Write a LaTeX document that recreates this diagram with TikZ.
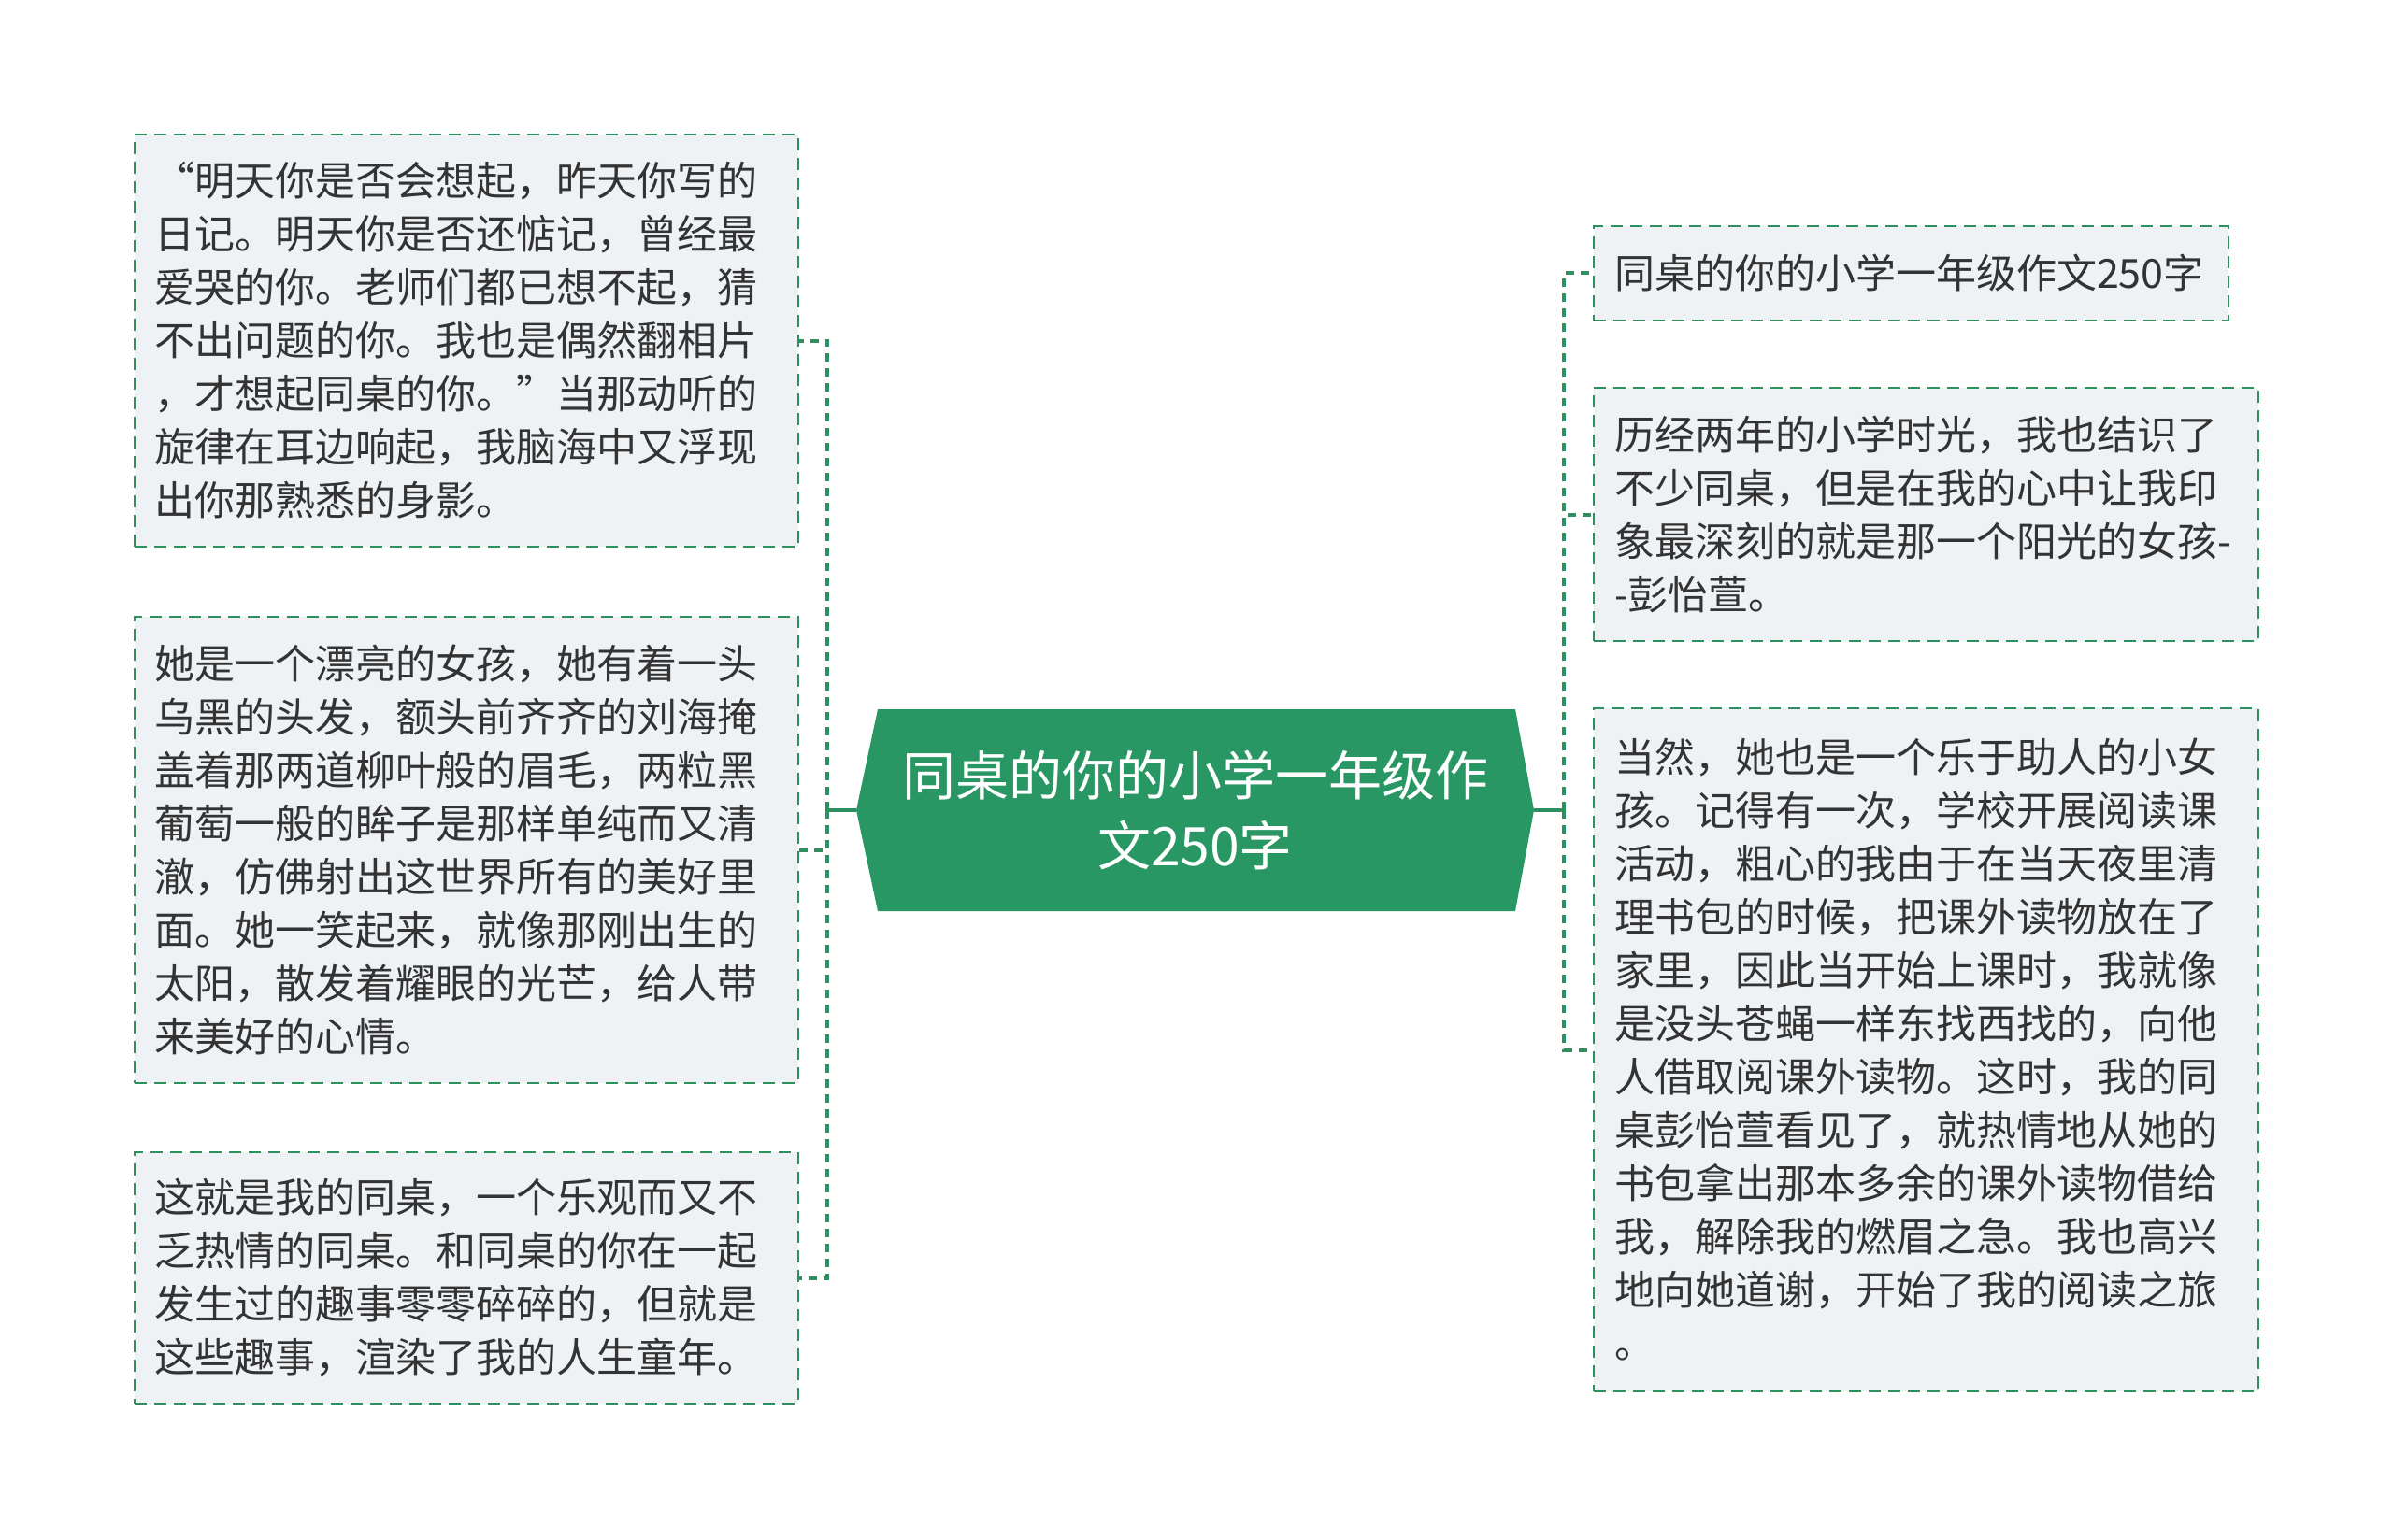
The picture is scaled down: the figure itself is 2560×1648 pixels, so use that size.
\documentclass[tikz,border=0pt]{standalone}
\usepackage{fontspec}
\setmainfont{Noto Sans CJK SC}
\definecolor{mgreen}{HTML}{299764}
\definecolor{lgreen}{HTML}{2E8F5F}
\definecolor{boxfill}{HTML}{EFF2F5}
\definecolor{txt}{HTML}{333333}
\begin{document}
\begin{tikzpicture}[x=0.5pt,y=-0.5pt,
  leaf/.style={draw=lgreen, line width=1pt, dash pattern=on 6.5pt off 4pt,
    fill=boxfill, text=txt, inner sep=0pt, align=left,
    font=\fontsize{21.5pt}{28.5pt}\selectfont},
  conn/.style={draw=lgreen, line width=2pt, dash pattern=on 4.5pt off 3.5pt},
  connsolid/.style={draw=lgreen, line width=2pt}]
\useasboundingbox (0,0) rectangle (2560,1648);
\fill[white] (0,0) rectangle (2560,1648);

% central node
\fill[mgreen] (916,867) -- (939,759) -- (1621,759) -- (1641,867) -- (1621,975) -- (939,975) -- cycle;
\node[minimum width=362.5pt, minimum height=108pt, inner sep=0pt, text=white, align=center,
  font=\fontsize{28.5pt}{37.5pt}\selectfont] (C) at (1278.5,867)
  {同桌的你的小学一年级作\\文250字};

% left leaves
\node[leaf, minimum width=355pt, minimum height=220.5pt, text width=334pt] (L1) at (499,364.5)
{“明天你是否会想起，昨天你写的\\
日记。明天你是否还惦记，曾经最\\
爱哭的你。老师们都已想不起，猜\\
不出问题的你。我也是偶然翻相片\\
，才想起同桌的你。”当那动听的\\
旋律在耳边响起，我脑海中又浮现\\
出你那熟悉的身影。};

\node[leaf, minimum width=355pt, minimum height=249.5pt, text width=334pt] (L2) at (499,909.5)
{她是一个漂亮的女孩，她有着一头\\
乌黑的头发，额头前齐齐的刘海掩\\
盖着那两道柳叶般的眉毛，两粒黑\\
葡萄一般的眸子是那样单纯而又清\\
澈，仿佛射出这世界所有的美好里\\
面。她一笑起来，就像那刚出生的\\
太阳，散发着耀眼的光芒，给人带\\
来美好的心情。};

\node[leaf, minimum width=355pt, minimum height=134.5pt, text width=334pt] (L3) at (499,1367.5)
{这就是我的同桌，一个乐观而又不\\
乏热情的同桌。和同桌的你在一起\\
发生过的趣事零零碎碎的，但就是\\
这些趣事，渲染了我的人生童年。};

% right leaves
\node[leaf, minimum width=339.5pt, minimum height=50.5pt, text width=317.5pt] (R1) at (2044.5,292.5)
{同桌的你的小学一年级作文250字};

\node[leaf, minimum width=355.5pt, minimum height=135.5pt, text width=333.5pt] (R2) at (2060.5,550.5)
{历经两年的小学时光，我也结识了\\
不少同桌，但是在我的心中让我印\\
象最深刻的就是那一个阳光的女孩-\\
-彭怡萱。};

\node[leaf, minimum width=355.5pt, minimum height=365.5pt, text width=333.5pt] (R3) at (2060.5,1123.5)
{当然，她也是一个乐于助人的小女\\
孩。记得有一次，学校开展阅读课\\
活动，粗心的我由于在当天夜里清\\
理书包的时候，把课外读物放在了\\
家里，因此当开始上课时，我就像\\
是没头苍蝇一样东找西找的，向他\\
人借取阅课外读物。这时，我的同\\
桌彭怡萱看见了，就热情地从她的\\
书包拿出那本多余的课外读物借给\\
我，解除我的燃眉之急。我也高兴\\
地向她道谢，开始了我的阅读之旅\\
。};

% connectors
\coordinate (tl) at (885,867);
\coordinate (tr) at (1673,867);
\draw[connsolid] (C.west) -- (tl);
\draw[connsolid] (C.east) -- (tr);
\draw[connsolid, line width=1.5pt] (885,859) -- (885,875);
\draw[connsolid, line width=1.5pt] (1673,859) -- (1673,875);
\draw[conn] (tl) |- (L1.east);
\draw[conn] (tl) |- (L2.east);
\draw[conn] (tl) |- (L3.east);
\draw[conn] (tr) |- (R1.west);
\draw[conn] (tr) |- (R2.west);
\draw[conn] (tr) |- (R3.west);
\end{tikzpicture}
\end{document}
